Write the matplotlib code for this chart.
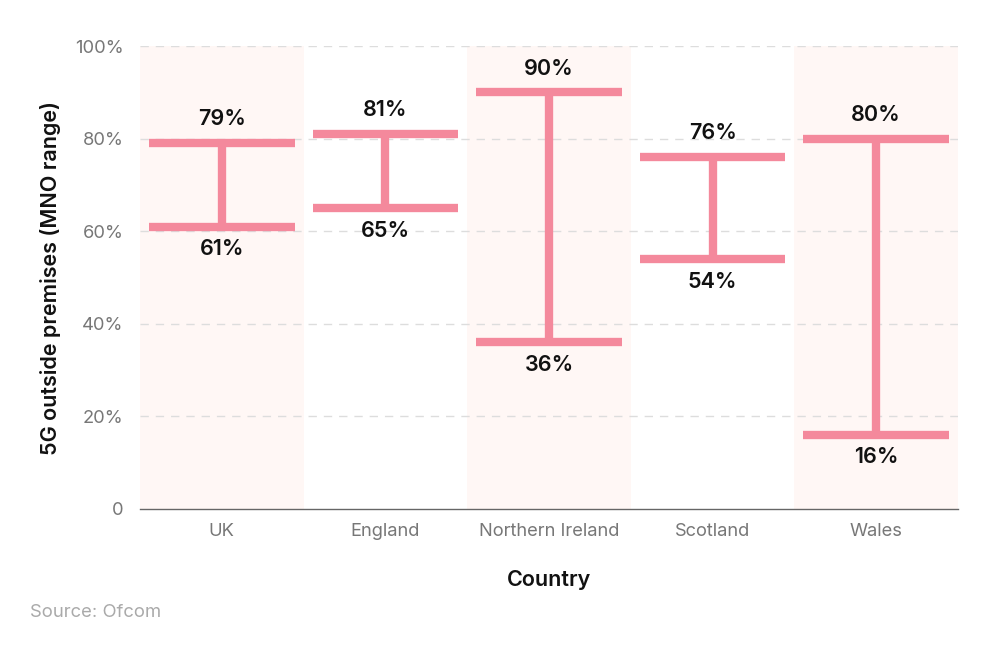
import matplotlib
matplotlib.use("Agg")
import matplotlib.pyplot as plt

countries = ["UK", "England", "Northern Ireland", "Scotland", "Wales"]
low = [61, 65, 36, 54, 16]
high = [79, 81, 90, 76, 80]
y_ticks = [0, 20, 40, 60, 80, 100]
y_tick_labels = ["0", "20%", "40%", "60%", "80%", "100%"]

plt.rcParams['font.family'] = ['Inter', 'DejaVu Sans']

pink = "#F4899C"
shade = "#FFF7F5"

fig = plt.figure(figsize=(10, 6.5), dpi=100)
ax = fig.add_axes([0.14, 0.217, 0.818, 0.712])

x = list(range(len(countries)))
for i in x:
    if i % 2 == 0:
        ax.axvspan(i - 0.5, i + 0.5, color=shade, zorder=0, lw=0)

for yv in y_ticks[1:]:
    ax.axhline(yv, color="#dddddd", lw=1, ls=(0, (6, 5)), zorder=1)

cap_half = 0.445
for i, lo, hi in zip(x, low, high):
    ax.plot([i, i], [lo, hi], color=pink, lw=6, solid_capstyle='butt', zorder=3)
    ax.plot([i - cap_half, i + cap_half], [hi, hi], color=pink, lw=6, solid_capstyle='butt', zorder=3)
    ax.plot([i - cap_half, i + cap_half], [lo, lo], color=pink, lw=6, solid_capstyle='butt', zorder=3)
    ax.annotate(f"{hi}%", (i, hi), xytext=(0, 10), textcoords='offset points',
                ha='center', va='bottom', fontsize=15.5, color="#111111", fontweight=600)
    ax.annotate(f"{lo}%", (i, lo), xytext=(0, -9), textcoords='offset points',
                ha='center', va='top', fontsize=15.5, color="#111111", fontweight=600)

ax.set_xlim(-0.5, len(countries) - 0.5)
ax.set_ylim(0, 100)
ax.set_xticks(x)
ax.set_xticklabels(countries)
ax.set_yticks(y_ticks)
ax.set_yticklabels(y_tick_labels)
ax.tick_params(axis='both', length=0, labelsize=13.2, colors="#777777")
ax.tick_params(axis='x', pad=10)
ax.tick_params(axis='y', pad=12)
for s in ["top", "right", "left"]:
    ax.spines[s].set_visible(False)
ax.spines["bottom"].set_color("#666666")
ax.spines["bottom"].set_linewidth(1)

ax.set_xlabel("Country", fontsize=15.5, color="#111111", labelpad=22, fontweight=600)
ax.set_ylabel("5G outside premises (MNO range)", fontsize=15.5, color="#111111", labelpad=10, fontweight=600)

fig.text(0.03, 0.058, "Source: Ofcom", fontsize=13.3, color="#aaaaaa", ha='left', va='center')

fig.savefig("out.png", dpi=100)
